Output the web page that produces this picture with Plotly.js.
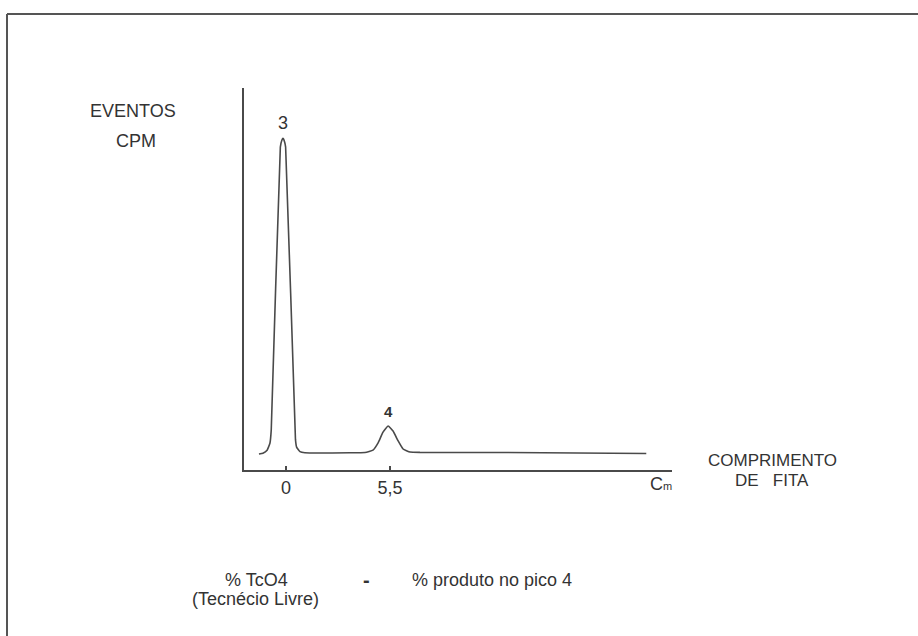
<!DOCTYPE html>
<html>
<head>
<meta charset="utf-8">
<script src="https://cdn.plot.ly/plotly-3.0.1.min.js"></script>
<style>html,body{margin:0;padding:0;background:#fff;}#chart{width:918px;height:636px;}</style>
</head>
<body>
<div id="chart"></div>
<script>
// Strip length (x) and counts (y, arbitrary units)
var stripPos = [-1.43, -1.22, -1.0, -0.85, -0.78, -0.3, -0.22, -0.16, -0.10, -0.02, 0.50, 0.56, 0.74, 1.0, 3.39, 4.18, 4.6, 4.87, 5.13, 5.4, 5.66, 5.93, 6.19, 6.56, 7.09, 11.3, 19.05];
var counts   = [4.2, 4.4, 5.2, 7.0, 10.5, 84.5, 86.3, 86.8, 86.3, 84.5, 8.0, 6.0, 4.8, 4.5, 4.5, 4.6, 5.2, 7.1, 9.9, 11.5, 10.2, 7.6, 5.5, 4.7, 4.6, 4.6, 4.3];
var tickVals = [0, 5.5];
var tickText = ['0', '5,5'];
var peakPos = [-0.16, 5.4];
var peakCounts = [86.8, 11.5];
var peakLabels = ['3', '4'];

var ink = '#333333';
var font = 'Liberation Sans, Arial, Helvetica, sans-serif';

var data = [{
  x: stripPos, y: counts, type: 'scatter', mode: 'lines',
  line: {color: '#4a4a4a', width: 1.6, shape: 'spline', smoothing: 0.35},
  hoverinfo: 'skip', showlegend: false
}];

// helpers: page pixel -> paper coords (plot area 244..672 x, 88..470 y)
function px(x){ return (x - 244) / 428; }
function py(y){ return (470 - y) / 382; }

var annotations = [
  {text: 'EVENTOS', x: px(133), y: py(111), s: 18},
  {text: 'CPM', x: px(136), y: py(141), s: 18},
  {text: 'COMPRIMENTO', x: px(772), y: py(460), s: 17},
  {text: 'DE&nbsp;&nbsp;&nbsp;FITA', x: px(772), y: py(480), s: 17},
  {text: 'C<span style="font-size:11px">m</span>', x: px(661), y: py(484), s: 18},
  {text: '% TcO4', x: px(256), y: py(580), s: 18},
  {text: '(Tecnécio Livre)', x: px(255), y: py(599), s: 18},
  {text: '<b>-</b>', x: px(366), y: py(580), s: 20},
  {text: '% produto no pico 4', x: px(492), y: py(580), s: 18}
].map(function(a){
  return {text: a.text, x: a.x, y: a.y, xref: 'paper', yref: 'paper',
    xanchor: 'center', yanchor: 'middle', showarrow: false,
    font: {family: font, size: a.s, color: ink}};
});

peakPos.forEach(function(p, i){
  annotations.push({text: peakLabels[i], x: p, y: peakCounts[i], xref: 'x', yref: 'y',
    xanchor: 'center', yanchor: 'bottom', showarrow: false, yshift: i === 0 ? 3 : 4,
    font: {family: font, size: i === 0 ? 18 : 15, color: ink, weight: i === 0 ? 'normal' : 'bold'}});
});

var layout = {
  width: 918, height: 636, autosize: false,
  margin: {l: 244, r: 246, t: 88, b: 166},
  paper_bgcolor: '#ffffff', plot_bgcolor: 'rgba(0,0,0,0)',
  showlegend: false,
  xaxis: {
    range: [-2.221, 20.41], showgrid: false, zeroline: false,
    showline: true, linecolor: '#4a4a4a', linewidth: 2,
    tickmode: 'array', tickvals: tickVals, ticktext: tickText,
    ticks: 'inside', ticklen: 4, tickwidth: 1.5, tickcolor: '#4a4a4a',
    tickfont: {family: font, size: 18, color: ink}, fixedrange: true
  },
  yaxis: {
    range: [0, 100], showgrid: false, zeroline: false,
    showline: true, linecolor: '#4a4a4a', linewidth: 2,
    showticklabels: false, ticks: '', fixedrange: true
  },
  shapes: [
    {type: 'line', xref: 'paper', yref: 'paper', x0: px(7), x1: px(7), y0: py(14), y1: py(640), line: {color: '#555', width: 2}},
    {type: 'line', xref: 'paper', yref: 'paper', x0: px(7), x1: px(920), y0: py(14), y1: py(14), line: {color: '#555', width: 2}}
  ],
  annotations: annotations
};

Plotly.newPlot('chart', data, layout, {displayModeBar: false, staticPlot: true});
</script>
</body>
</html>
